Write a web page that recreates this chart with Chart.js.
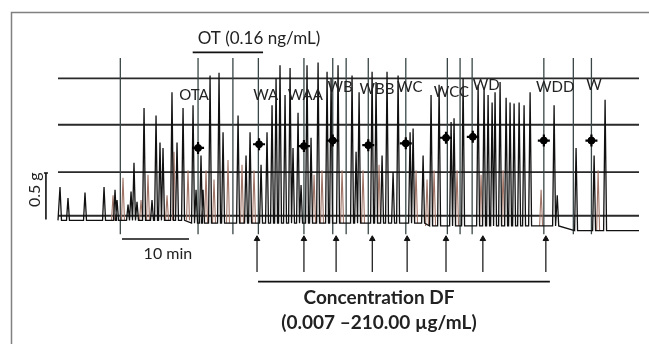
<!DOCTYPE html>
<html>
<head>
<meta charset="utf-8">
<script src="https://cdn.jsdelivr.net/npm/chart.js@4"></script>
<style>
  body { margin: 0; background: #fff; }
</style>
</head>
<body>
<canvas id="trace" width="649" height="344"></canvas>
<script>
// contraction peaks, time in min and force in g
const blackTimes = [0.3, 1.49, 4.03, 6.87, 8.51, 8.81, 10.45, 10.9, 11.34, 11.79, 12.84, 14.03, 14.63, 15.22, 15.67, 17.01, 17.76, 18.66, 20.15, 20.6, 21.34, 21.64, 22.69, 24.03, 24.63, 26.87, 28.06, 28.66, 30.3, 31.19, 31.94, 32.54, 33.13, 33.88, 34.63, 35.07, 35.82, 36.27, 37.16, 37.76, 38.81, 40.15, 40.75, 41.79, 43.88, 44.48, 44.93, 46.87, 47.46, 48.36, 49.1, 50.0, 50.75, 52.54, 52.99, 54.48, 55.67, 56.87, 58.66, 59.1, 60.45, 62.69, 63.58, 64.18, 64.78, 65.22, 65.97, 66.87, 67.46, 68.06, 68.81, 69.55, 70.45, 74.03, 74.5, 77.31, 80.0, 81.64];
const blackPeaks = [0.33, 0.21, 0.27, 0.33, 0.3, 0.19, 0.14, 0.28, 0.59, 0.17, 1.18, 0.19, 1.1, 0.81, 0.75, 1.35, 0.81, 1.18, 1.21, 0.3, 0.67, 0.3, 1.53, 1.56, 0.92, 1.1, 0.67, 0.92, 0.57, 0.92, 1.21, 1.5, 1.64, 1.32, 1.61, 0.75, 1.13, 0.35, 1.64, 0.86, 1.67, 1.57, 1.5, 1.64, 1.53, 0.71, 1.35, 1.57, 1.46, 0.67, 1.57, 0.49, 1.53, 0.92, 0.96, 0.67, 1.32, 1.43, 1.03, 1.07, 1.5, 1.43, 1.4, 1.32, 1.24, 1.35, 1.46, 1.29, 1.24, 1.23, 1.24, 1.21, 1.35, 1.21, 0.24, 0.75, 0.67, 1.27];
const brownTimes = [8.21, 9.7, 12.39, 13.43, 16.27, 17.31, 19.4, 22.09, 23.28, 25.37, 27.46, 29.25, 38.21, 39.4, 42.39, 45.52, 47.91, 53.43, 55.07, 56.12, 59.55, 63.13, 66.42, 72.09, 80.6];
const brownPeaks = [0.24, 0.43, 0.19, 0.46, 0.24, 0.71, 0.51, 0.51, 0.41, 0.62, 0.57, 0.51, 0.46, 0.51, 0.51, 0.51, 0.57, 0.51, 0.41, 0.51, 0.51, 0.46, 0.51, 0.3, 0.51];
const baseStarts = [0, 20, 55, 77];
const baseLevels = [-0.03, -0.06, -0.09, -0.14];

const gridLevels = [0.02, 0.49, 1, 1.5];
const markerTimes = [9.3, 20.9, 26.1, 29.9, 36.7, 41.0, 43.0, 46.3, 51.9, 58.1, 60.0, 61.8, 72.5, 76.9, 79.6];

const doseLabels = ['OTA', 'WA', 'WAA', 'WB', 'WBB', 'WC', 'WCC', 'WD', 'WDD', 'W'];
const dotTimes = [20.9, 30.0, 36.7, 41.0, 46.3, 51.9, 57.9, 61.9, 72.5, 79.6];
const dotValues = [0.75, 0.79, 0.77, 0.83, 0.78, 0.80, 0.86, 0.87, 0.83, 0.83];
const labelTimes = [20.3, 31.0, 36.9, 42.1, 47.6, 52.5, 58.7, 63.9, 74.2, 80.0];
const labelValues = [1.32, 1.32, 1.32, 1.40, 1.38, 1.40, 1.35, 1.43, 1.40, 1.43];
const arrowTimes = [29.7, 36.7, 41.5, 46.9, 52.1, 57.9, 63.4, 72.8];

const tMax = 86.7;
const half = 0.22;

function baseAt(t) {
  let lvl = baseLevels[0];
  baseStarts.forEach((s, i) => { if (t >= s) lvl = baseLevels[i]; });
  return lvl;
}

// continuous black trace
const blackPts = [{ x: 0, y: baseAt(0) }];
blackTimes.forEach((t, i) => {
  blackPts.push({ x: t - half, y: baseAt(t) }, { x: t, y: blackPeaks[i] }, { x: t + half, y: baseAt(t) });
});
blackPts.push({ x: tMax, y: baseAt(tMax) });

// second (brown) pen, only its spikes
const brownPts = [];
brownTimes.forEach((t, i) => {
  brownPts.push({ x: t - half, y: baseAt(t) }, { x: t, y: brownPeaks[i] }, { x: t + half, y: baseAt(t) }, { x: t, y: null });
});

function segs(list) {
  const out = [];
  list.forEach(s => out.push({ x: s[0], y: s[1] }, { x: s[2], y: s[3] }, { x: s[2], y: null }));
  return out;
}

const gridPts = segs(gridLevels.map(l => [0, l, tMax, l]));
const markerPts = segs(markerTimes.map(t => [t, 1.72, t, -0.18]));
const arrowPts = segs(arrowTimes.map(t => [t, -0.585, t, -0.23]));
const barPts = segs([
  [20.1, 1.78, 30.6, 1.78],     // OT bar
  [9.55, -0.23, 19.55, -0.23],  // 10 min
  [29.85, -0.69, 73.4, -0.69],  // concentration DF
  [-1.8, -0.02, -1.8, 0.48],    // 0.5 g
  [-2.1, 0.48, -1.5, 0.48]
]);
const dots = dotTimes.map((t, i) => ({ x: t, y: dotValues[i] }));

const notes = [
  { text: 'OT (0.16 ng/mL)', x: 30.0, y: 1.93, font: '17px Lato' },
  { text: '10 min', x: 16.4, y: -0.39, font: '16px Lato' },
  { text: 'Concentration DF', x: 47.9, y: -0.87, font: 'bold 19px Lato' },
  { text: '(0.007 \u2013210.00 \u00b5g/mL)', x: 47.9, y: -1.13, font: 'bold 19px Lato' }
];

const decor = {
  id: 'decor',
  beforeDraw(chart) {
    const c = chart.ctx;
    c.save();
    c.strokeStyle = '#808080';
    c.lineWidth = 1.5;
    c.beginPath();
    c.moveTo(11.5, 344);
    c.lineTo(11.5, 12.5);
    c.lineTo(649, 12.5);
    c.stroke();
    c.restore();
  },
  afterDatasetsDraw(chart) {
    const c = chart.ctx, xs = chart.scales.x, ys = chart.scales.y;
    c.save();
    c.fillStyle = '#222';
    c.textAlign = 'center';
    c.textBaseline = 'middle';
    c.font = '15px Lato';
    doseLabels.forEach((l, i) => {
      c.fillText(l, xs.getPixelForValue(labelTimes[i]), ys.getPixelForValue(labelValues[i]));
    });
    notes.forEach(n => {
      c.font = n.font;
      c.fillText(n.text, xs.getPixelForValue(n.x), ys.getPixelForValue(n.y));
    });
    c.font = '16px Lato';
    c.translate(xs.getPixelForValue(-3.4), ys.getPixelForValue(0.30));
    c.rotate(-Math.PI / 2);
    c.fillText('0.5 g', 0, 0);
    c.restore();
  }
};

new Chart(document.getElementById('trace'), {
  type: 'line',
  data: {
    datasets: [
      { data: dots, showLine: false, pointStyle: 'cross', pointRadius: 6, pointBorderWidth: 2.2, pointBorderColor: '#000', order: 0 },
      { data: dots, showLine: false, pointRadius: 3.5, pointBackgroundColor: '#000', pointBorderColor: '#000', order: 1 },
      { data: blackPts, borderColor: '#111', borderWidth: 1.3, pointRadius: 0, order: 2 },
      { data: markerPts, borderColor: '#3a4646', borderWidth: 1.3, pointRadius: 0, order: 3 },
      { data: brownPts, borderColor: '#a07466', borderWidth: 1.1, pointRadius: 0, order: 4 },
      { data: gridPts, borderColor: '#2a2a2a', borderWidth: 1.8, pointRadius: 0, order: 5 },
      { data: arrowPts, borderColor: '#111', borderWidth: 1.2, pointRadius: 0, order: 6 },
      { data: arrowTimes.map(t => ({ x: t, y: -0.23 })), showLine: false, pointStyle: 'triangle', pointRadius: 3.2, pointBackgroundColor: '#111', pointBorderColor: '#111', order: 7 },
      { data: barPts, borderColor: '#111', borderWidth: 1.6, pointRadius: 0, order: 8 }
    ]
  },
  options: {
    responsive: false,
    animation: false,
    devicePixelRatio: 1,
    layout: { padding: { left: 58, right: 10, top: 18, bottom: 54 } },
    plugins: { legend: { display: false }, tooltip: { enabled: false } },
    elements: { line: { tension: 0 } },
    scales: {
      x: { type: 'linear', min: 0, max: tMax, display: false },
      y: { min: -0.78, max: 2.15, display: false }
    },
    clip: false
  },
  plugins: [decor]
});
</script>
</body>
</html>
